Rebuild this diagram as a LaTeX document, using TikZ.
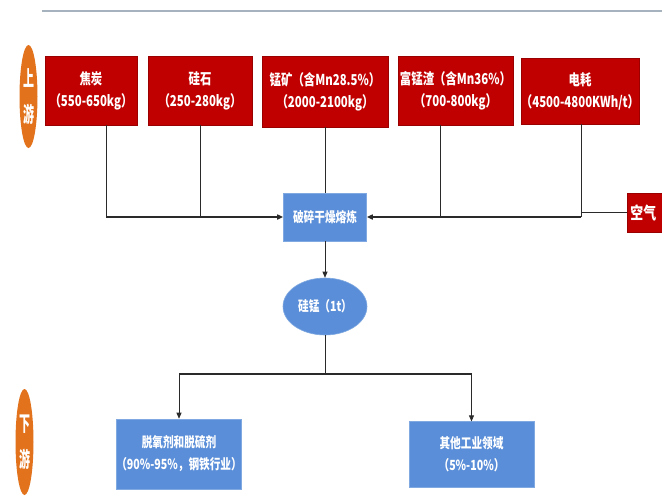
\documentclass[tikz,border=0pt]{standalone}
\usepackage{fontspec}
\newfontfamily\cjk[FakeStretch=0.76]{Noto Sans CJK SC}
\usetikzlibrary{arrows.meta,shapes.geometric}
\definecolor{cred}{HTML}{C00000}
\definecolor{credd}{HTML}{9A0000}
\definecolor{cblue}{HTML}{5A8ED8}
\definecolor{cbluel}{HTML}{7FA9E0}
\definecolor{corange}{HTML}{E2731C}
\definecolor{cline}{HTML}{A7B2BF}
\definecolor{cconn}{HTML}{2A2A2A}
\begin{document}
\begin{tikzpicture}[x=1pt,y=-1pt,
  font=\cjk\bfseries\fontsize{15}{22}\selectfont,
  redbox/.style={draw=credd, line width=0.8pt, fill=cred, text=white, inner sep=0pt, align=center},
  bluebox/.style={draw=cbluel, line width=0.6pt, fill=cblue, text=white, inner sep=0pt, align=center, font=\cjk\bfseries\fontsize{14}{22}\selectfont},
  sidetag/.style={ellipse, fill=corange, text=white, inner sep=0pt, align=center, font=\cjk\bfseries\fontsize{17}{36}\selectfont},
  conn/.style={draw=cconn, line width=0.7pt},
  mainconn/.style={draw=cconn, line width=1.5pt},
  arr/.style={-{Triangle[length=6pt,width=5pt]}}
]
\useasboundingbox (0,0) rectangle (662,496);
\fill[white] (0,0) rectangle (662,496);
% top rule
\draw[cline, line width=2pt] (42,11) -- (662,11);
% side tags
\node[sidetag, minimum width=18pt, minimum height=103pt] (up) at (28.5,96.5) {\scalebox{0.85}[1.25]{上}\\\scalebox{0.85}[1.25]{游}};
\node[sidetag, minimum width=18pt, minimum height=106pt] (down) at (24.5,442) {\scalebox{0.85}[1.25]{下}\\\scalebox{0.85}[1.25]{游}};
% upstream boxes
\node[redbox, minimum width=92pt, minimum height=69pt] (b1) at (91,90.5) {焦炭\\（550-650kg）};
\node[redbox, minimum width=104pt, minimum height=69pt] (b2) at (200,90.5) {硅石\\（250-280kg）};
\node[redbox, minimum width=126pt, minimum height=71pt] (b3) at (325,91.5) {锰矿（含Mn28.5\%）\\（2000-2100kg）};
\node[redbox, minimum width=115pt, minimum height=69pt] (b4) at (455.5,90.5) {富锰渣（含Mn36\%）\\（700-800kg）};
\node[redbox, minimum width=114pt, minimum height=66pt] (b5) at (580,91) {电耗\\（4500-4800KWh/t）};
\node[redbox, minimum width=60pt, minimum height=39pt, anchor=west, align=left, text width=54pt, inner xsep=3pt, font=\cjk\bfseries\fontsize{17}{20}\selectfont] (kq) at (627,212.5) {空气};
% process
\node[bluebox, minimum width=83pt, minimum height=48pt] (proc) at (325,217) {破碎干燥熔炼};
\node[bluebox, ellipse, minimum width=84pt, minimum height=57pt] (sm) at (325,306.5) {硅锰（1t）};
% downstream
\node[bluebox, minimum width=125pt, minimum height=70pt] (d1) at (179,454) {脱氧剂和脱硫剂\\（90\%-95\%，钢铁行业）};
\node[bluebox, minimum width=125pt, minimum height=66pt] (d2) at (471.5,454.7) {其他工业领域\\（5\%-10\%）};
% junction coordinates
\coordinate (j1) at (106,217);
\coordinate (j2) at (200,217);
\coordinate (j4) at (440,217);
\coordinate (j5) at (581,217);
\coordinate (bt) at (325,374);
\coordinate (bl) at (179,374);
\coordinate (br) at (471.5,374);
% connectors
\draw[conn] (j1 |- b1.south) -- (j1);
\draw[conn] (j2 |- b2.south) -- (j2);
\draw[conn] (b3.south) -- (proc.north);
\draw[conn] (j4 |- b4.south) -- (j4);
\draw[conn] (j5 |- b5.south) -- (j5);
\draw[conn] (kq.west) -- (kq.west -| j5);
\draw[mainconn, arr] (j1) -- (proc.west);
\draw[mainconn, arr] (j5) -- (proc.east);
\draw[conn, arr] (proc.south) -- (sm.north);
\draw[conn] (sm.south) -- (bt);
\draw[mainconn] (bl) -- (br);
\draw[conn, arr] (bl) -- (d1.north);
\draw[conn, arr] (br) -- (d2.north);
\end{tikzpicture}
\end{document}
